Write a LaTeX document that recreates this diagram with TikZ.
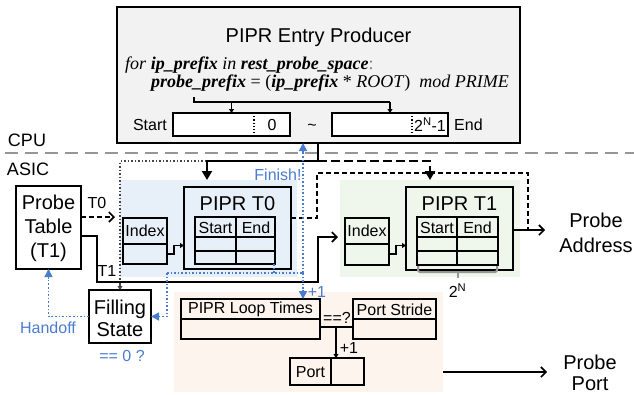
\documentclass[tikz,border=0pt]{standalone}
\usepackage{fontspec}
\setmainfont{Liberation Sans}
\newfontfamily\codefont{Liberation Serif}
\usetikzlibrary{arrows.meta,calc}
\definecolor{prodfill}{RGB}{242,242,242}
\definecolor{bluefill}{RGB}{231,239,249}
\definecolor{greenfill}{RGB}{239,247,236}
\definecolor{peachfill}{RGB}{253,244,238}
\definecolor{myblue}{RGB}{74,124,206}
\definecolor{dashgray}{RGB}{150,150,150}
\definecolor{dotdark}{RGB}{70,70,70}
\begin{document}
\begin{tikzpicture}[x=1pt,y=-1pt,
  box/.style={draw, line width=1.8pt, inner sep=0pt, outer sep=0pt},
  region/.style={inner sep=0pt, outer sep=0pt},
  bigtxt/.style={font=\fontsize{20}{23}\selectfont, inner sep=0pt},
  midtxt/.style={font=\fontsize{16}{18}\selectfont, inner sep=0pt},
  labtxt/.style={font=\fontsize{18}{20}\selectfont, inner sep=0pt},
  bluetxt/.style={midtxt, text=myblue},
  codetxt/.style={font=\codefont\fontsize{18}{20}\selectfont, inner sep=0pt, anchor=west},
  conn/.style={line width=1.6pt},
  opentip/.style={-{Straight Barb[length=5pt,width=10pt,line width=1.6pt]}},
  smalltip/.style={-{Triangle[length=4pt,width=5pt]}},
  bluedot/.style={myblue, line width=1.6pt, dotted},
  bluetip/.style={-{Triangle[length=8pt,width=8pt]}},
]
\useasboundingbox (0,0) rectangle (634,394);

% regions
\node[region, fill=bluefill, minimum width=177, minimum height=97] (bluereg) at (208.5,228.5) {};
\node[region, fill=greenfill, minimum width=180, minimum height=97] (greenreg) at (430,228.5) {};
\node[region, fill=peachfill, minimum width=269, minimum height=100] (peachreg) at (308.5,342) {};

% CPU / ASIC separator
\coordinate (sepL) at (5,153);
\coordinate (sepR) at (634,153);
\draw[dashgray, line width=2pt, dash pattern=on 13pt off 7pt] (sepL) -- (sepR);
\node[labtxt] (cpu) at (27,140) {CPU};
\node[labtxt] (asic) at (28,169) {ASIC};

% Producer box
\node[box, fill=prodfill, minimum width=403, minimum height=136] (prod) at (318.5,75) {};
\node[bigtxt] (prodtitle) at (318.5,37) {PIPR Entry Producer};
\node[codetxt] (code1) at (125,65) {\textit{for} \textbf{\textit{ip\_prefix}} \textit{in} \textbf{\textit{rest\_probe\_space}}\textcolor{gray}{:}};
\node[codetxt] (code2) at (151,83) {\textbf{\textit{probe\_prefix}} = (\textbf{\textit{ip\_prefix}} * \textit{ROOT})\ \ \textit{mod PRIME}};
\node[box, fill=white, minimum width=117, minimum height=23] (startbox) at (231.5,124.5) {};
\node[box, fill=white, minimum width=116, minimum height=23] (endbox) at (390,124.5) {};
\draw[line width=1.2pt, dotted] (254,113) -- (254,136);
\draw[line width=1.2pt, dotted] (412,113) -- (412,136);
\node[midtxt] (zero) at (272,125) {0};
\node[midtxt] (twon) at (430,125) {2\textsuperscript{N}-1};
\node[midtxt, anchor=east] (startlab) at (167,125) {Start};
\node[midtxt] (tilde) at (312,127) {\textasciitilde};
\node[midtxt, anchor=west] (endlab) at (454,125) {End};
\coordinate (brk) at (194,97);
\draw[line width=1.5pt] (brk) -- (194,102) -- (endbox.north |- 0,102);
\draw[line width=1.5pt, smalltip] (startbox.north |- 0,102) -- (startbox.north);
\draw[line width=1.5pt, smalltip] (endbox.north |- 0,102) -- (endbox.north);

% Probe table
\node[box, minimum width=65, minimum height=83, bigtxt, align=center] (ptable) at (48.5,227.5) {};
\node[bigtxt, align=center, font=\fontsize{20}{24}\selectfont] (ptabletxt) at (48.5,228) {Probe\\Table\\(T1)};

% T0 stage
\node[box, minimum width=44, minimum height=46] (idx0) at (145,241) {};
\draw[line width=1.8pt] (idx0.west |- 0,244) -- (idx0.east |- 0,244);
\node[midtxt] (idx0txt) at (145,231) {Index};
\node[box, minimum width=107, minimum height=82] (pipr0) at (237.5,228) {};
\node[bigtxt] (pipr0txt) at (237.5,204) {PIPR T0};
\node[box, minimum width=80, minimum height=47] (tab0) at (235,240.5) {};
\draw[line width=1.8pt] (tab0.west |- 0,237) -- (tab0.east |- 0,237);
\draw[line width=1.8pt] (tab0.west |- 0,251) -- (tab0.east |- 0,251);
\draw[line width=1.8pt] (236,217) -- (236,264);
\node[midtxt] (st0) at (215.5,227.5) {Start};
\node[midtxt] (en0) at (256,227.5) {End};

% T1 stage
\node[box, minimum width=44, minimum height=47] (idx1) at (367,241.5) {};
\draw[line width=1.8pt] (idx1.west |- 0,244) -- (idx1.east |- 0,244);
\node[midtxt] (idx1txt) at (367,231) {Index};
\node[box, minimum width=107, minimum height=83] (pipr1) at (459.5,228.5) {};
\node[bigtxt] (pipr1txt) at (459.5,204) {PIPR T1};
\node[box, minimum width=81, minimum height=48] (tab1) at (457.5,241) {};
\draw[line width=1.8pt] (tab1.west |- 0,237) -- (tab1.east |- 0,237);
\draw[line width=1.8pt] (tab1.west |- 0,251) -- (tab1.east |- 0,251);
\draw[line width=1.8pt] (457,217) -- (457,265);
\node[midtxt] (st1) at (437,227.5) {Start};
\node[midtxt] (en1) at (477.5,227.5) {End};
\draw[dashgray, line width=2pt, rounded corners=2pt] (418,266) -- (418,272) -- (497,272) -- (497,266);
\draw[dashgray, line width=2pt] (457.5,272) -- (457.5,278);
\node[midtxt] (twoN) at (457.5,291) {2\textsuperscript{N}};

% Filling state
\node[box, minimum width=62, minimum height=53] (fill) at (120,316.5) {};
\node[bigtxt, align=center, font=\fontsize{20}{22}\selectfont] (filltxt) at (120,318) {Filling\\State};
\node[bluetxt] (eqz) at (122,356) {== 0 ?};

% Loop times / stride / port
\node[box, minimum width=139, minimum height=40] (loop) at (250.5,319) {};
\draw[line width=1.8pt] (loop.west |- 0,319) -- (loop.east |- 0,319);
\node[midtxt] (looptxt) at (250.5,309.5) {PIPR Loop Times};
\node[box, minimum width=83, minimum height=40] (stride) at (394.5,319) {};
\draw[line width=1.8pt] (stride.west |- 0,319) -- (stride.east |- 0,319);
\node[midtxt] (stridetxt) at (394.5,309.5) {Port Stride};
\node[box, minimum width=74, minimum height=27] (port) at (327,371.5) {};
\draw[line width=1.8pt] (331,358) -- (331,385);
\node[midtxt] (porttxt) at (310.5,372) {Port};
\node[midtxt] (eqq) at (337,318) {==?};
\node[midtxt] (plus1b) at (349,348) {+1};

% outputs text
\node[bigtxt, align=center, font=\fontsize{20}{25}\selectfont] (paddr) at (596,232.5) {Probe\\Address};
\node[bigtxt, align=center, font=\fontsize{20}{21}\selectfont] (pport) at (590,372.5) {Probe\\Port};

% ---- connectors ----
\coordinate (jn) at (318,161);
\coordinate (jl) at (207,161);
\coordinate (jr) at (430,161);
\coordinate (dl) at (120,161);
% dotted dark path to filling state
\draw[dotdark, line width=1.5pt, dotted] (jn) -- (dl) -- ($(fill.north)+(0,-6)$);
\draw[dotdark, line width=1.5pt, smalltip] ($(fill.north)+(0,-7)$) -- (fill.north);
\draw[dotdark, line width=1.5pt, dotted] (prod.south -| jn) -- (jn);
% thick solid to T0
\draw[line width=2.6pt, -{Triangle[length=9pt,width=10pt]}] (prod.south -| jn) -- (jn) -- (jl) -- (jl |- bluereg.north);
% thick dashed to T1
\draw[line width=2.6pt, dash pattern=on 9pt off 4pt] (jn) -- (jr) -- ($(jr |- greenreg.north)+(0,-9)$);
\draw[line width=2.6pt, -{Triangle[length=9pt,width=10pt]}] ($(jr |- greenreg.north)+(0,-10)$) -- (jr |- greenreg.north);

% probe table -> T0 (dashed)
\draw[conn, dash pattern=on 5pt off 3pt, opentip] (ptable.east |- 0,217) -- (115,217);
\node[midtxt] (t0lab) at (97,203) {T0};
% probe table -> T1 (solid)
\draw[conn, opentip] (ptable.east |- 0,236) -- (97,236) -- (97,282) -- (318,282) -- (318,237) -- ($(idx1.west |- 0,237)+(-7,0)$);
\node[midtxt] (t1lab) at (107,271) {T1};

% index -> pipr small connectors
\draw[line width=1.5pt, smalltip] (idx0.east |- 0,254) -- (174,254) -- (174,245.5) -- (pipr0.west |- 0,245.5);
\draw[line width=1.5pt, smalltip] (idx1.east |- 0,254) -- (396,254) -- (396,245.5) -- (pipr1.west |- 0,245.5);

% T0 output dashed and T1 output
\coordinate (od) at (528,230);
\draw[conn, dash pattern=on 5pt off 3pt] (pipr0.east |- 0,218) -- (317,218) -- (317,173) -- (528,173) -- (od);
\draw[conn, opentip] (pipr1.east |- od) -- (545,230);

% blue dotted feedback
\coordinate (bt) at (274,273);
\coordinate (bl) at (167,273);
\coordinate (br) at (303,273);
\draw[bluedot] (tab0.south -| bt) -- (bt);
\draw[bluedot] (bl) -- (br);
\draw[bluedot] (bl) -- (bl |- fill.east) -- ($(fill.east)+(8,0)$);
\draw[myblue, line width=1.5pt, bluetip] ($(fill.east)+(9,0)$) -- (fill.east);
\draw[bluedot] (br) -- ($(br |- prod.south)+(0,9)$);
\draw[myblue, line width=1.5pt, bluetip] ($(br |- prod.south)+(0,10)$) -- (br |- prod.south);
\draw[bluedot] (br) -- ($(br |- loop.north)+(0,-8)$);
\draw[myblue, line width=1.5pt, bluetip] ($(br |- loop.north)+(0,-9)$) -- (br |- loop.north);
\node[bluetxt] (finish) at (278,175) {Finish!};
\node[bluetxt] (plus1a) at (317,292) {+1};
% handoff
\draw[bluedot] (fill.west) -- (ptable.south |- fill.west) -- ($(ptable.south)+(0,9)$);
\draw[myblue, line width=1.5pt, bluetip] ($(ptable.south)+(0,10)$) -- (ptable.south);
\node[bluetxt] (handoff) at (48,328) {Handoff};

% loop times == stride -> port
\coordinate (cm) at (336,327);
\draw[conn] (loop.east |- cm) -- (stride.west |- cm);
\draw[conn, smalltip] (cm) -- (port.north -| cm);
% probe port arrow
\draw[conn, opentip] (443,372) -- (547,372);
\end{tikzpicture}
\end{document}
